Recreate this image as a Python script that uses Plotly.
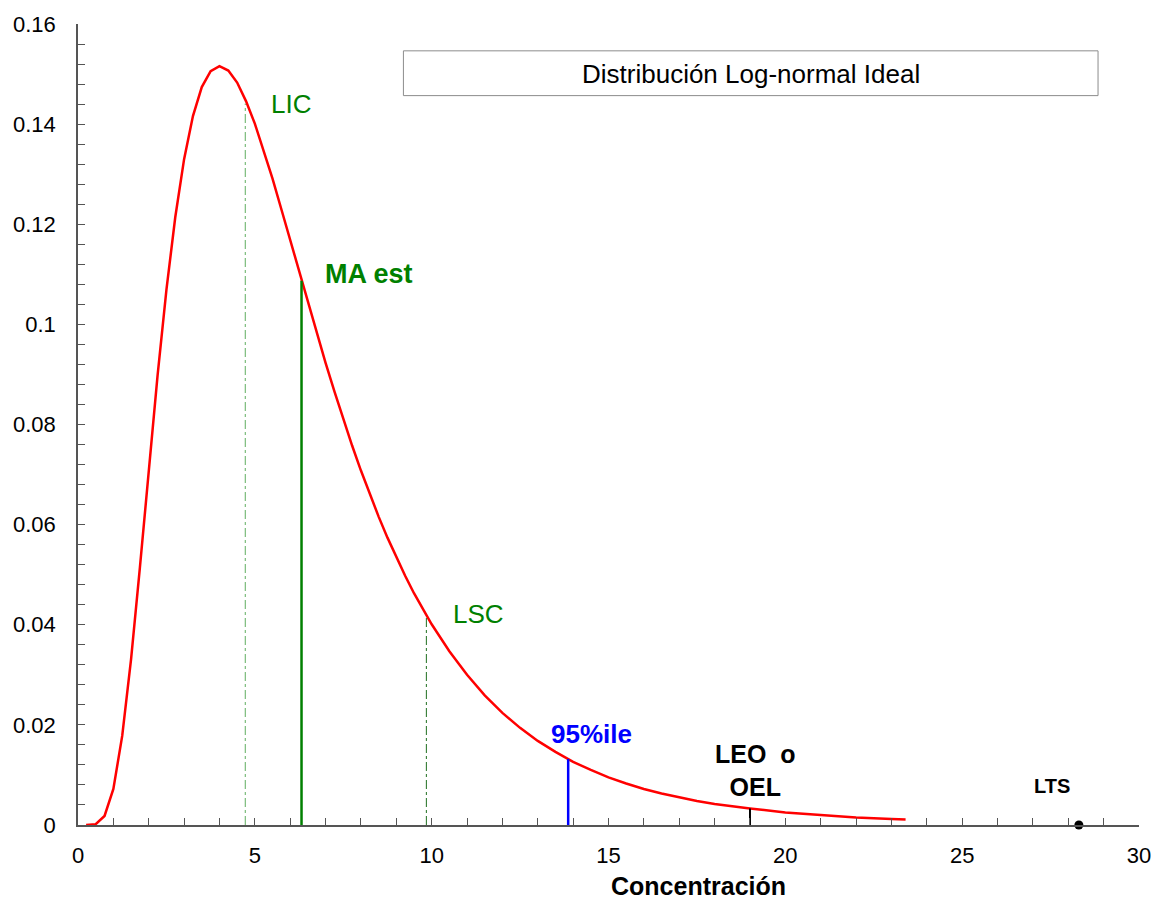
import plotly.graph_objects as go

# Log-normal curve, values
conc = [0.23, 0.5, 0.75, 1.0, 1.25, 1.5, 1.75, 2.0, 2.25, 2.5, 2.75, 3.0, 3.25, 3.5,
        3.75, 4.0, 4.25, 4.5, 4.75, 5.0, 5.25, 5.5, 5.75, 6.0, 6.25, 6.5, 6.75, 7.0,
        7.25, 7.5, 7.75, 8.0, 8.25, 8.5, 8.75, 9.0, 9.25, 9.5, 9.75, 10.0, 10.5, 11.0,
        11.5, 12.0, 12.5, 13.0, 13.5, 14.0, 14.5, 15.0, 15.5, 16.0, 16.5, 17.0, 17.5,
        18.0, 18.5, 19.0, 20.0, 21.0, 22.0, 23.0, 23.4]
dens = [0.0, 0.00016, 0.0018, 0.0072, 0.0178, 0.0331, 0.0514, 0.0709, 0.0898, 0.1069,
        0.1214, 0.1330, 0.1416, 0.1474, 0.1506, 0.1516, 0.1507, 0.1483, 0.1446, 0.1401,
        0.1348, 0.1291, 0.1230, 0.1168, 0.1106, 0.1043, 0.0982, 0.0923, 0.0866, 0.0811,
        0.0758, 0.0708, 0.0661, 0.0616, 0.0574, 0.0535, 0.0498, 0.0463, 0.0431, 0.0401,
        0.0347, 0.0300, 0.0259, 0.0224, 0.0194, 0.0168, 0.0146, 0.0126, 0.0110, 0.0095,
        0.0083, 0.0072, 0.0063, 0.0055, 0.0048, 0.0042, 0.0037, 0.0033, 0.0025, 0.0020,
        0.0015, 0.0012, 0.0011]

# Reference markers
lic_x, lic_y = 4.73, 0.1441
ma_x, ma_y = 6.32, 0.1087
lsc_x, lsc_y = 9.85, 0.0414
p95_x, p95_y = 13.86, 0.0132
leo_x, leo_y = 19.0, 0.0033
lts_x, lts_y = 28.3, 0.0

title_text = "Distribución Log-normal Ideal"
x_title = "Concentración"

FONT = "Liberation Sans, Arial, sans-serif"

fig = go.Figure()

fig.add_trace(go.Scatter(x=conc, y=dens, mode="lines",
                         line=dict(color="#ff0000", width=2.5), hoverinfo="skip"))

def vline(x, y, color, width, dash="solid"):
    fig.add_trace(go.Scatter(x=[x, x], y=[0, y], mode="lines",
                             line=dict(color=color, width=width, dash=dash),
                             hoverinfo="skip"))

vline(lic_x, lic_y, "#5fae5f", 1, "dashdot")
vline(ma_x, ma_y, "#008000", 2.5)
vline(lsc_x, lsc_y, "#1f6f1f", 1, "dashdot")
vline(p95_x, p95_y, "#0000ff", 2.5)
vline(leo_x, leo_y, "#000000", 2)

fig.add_trace(go.Scatter(x=[lts_x], y=[lts_y], mode="markers",
                         marker=dict(color="black", size=9), hoverinfo="skip",
                         cliponaxis=False))

def label(text, x, y, color, size, bold=False, xanchor="left"):
    t = f"<b>{text}</b>" if bold else text
    fig.add_annotation(x=x, y=y, xref="x", yref="y", text=t, showarrow=False,
                       xanchor=xanchor, yanchor="middle",
                       font=dict(family=FONT, size=size, color=color))

label("LIC", 5.40, 0.1441, "#008000", 26)
label("MA est", 6.92, 0.1101, "#008000", 27, bold=True)
label("LSC", 10.54, 0.0421, "#008000", 26)
label("95%ile", 14.52, 0.0181, "#0000ff", 26, bold=True, xanchor="center")
label("LEO  o<br>OEL", 19.16, 0.0109, "#000000", 25, bold=True, xanchor="center")
label("LTS", 27.55, 0.00775, "#000000", 20, bold=True, xanchor="center")

# Title box
fig.add_shape(type="rect", xref="paper", yref="paper",
              x0=0.3067, x1=0.9614, y0=0.9106, y1=0.9665,
              line=dict(color="#8c8c8c", width=1), fillcolor="white")
fig.add_annotation(xref="paper", yref="paper", x=0.634, y=0.938, text=title_text,
                   showarrow=False, xanchor="center", yanchor="middle",
                   font=dict(family=FONT, size=26, color="black"))

fig.add_annotation(xref="paper", yref="paper", x=0.585, y=-0.0758,
                   text=f"<b>{x_title}</b>", showarrow=False,
                   xanchor="center", yanchor="middle",
                   font=dict(family=FONT, size=25, color="black"))

axis_common = dict(showline=True, linecolor="#555555", linewidth=1.5,
                   ticks="inside", ticklen=7, tickcolor="#555555", tickwidth=1,
                   showgrid=False, zeroline=False,
                   tickfont=dict(family=FONT, size=22, color="black"))

fig.update_xaxes(range=[0, 30], tick0=0, dtick=5,
                 minor=dict(dtick=1, ticks="inside", ticklen=7, tickcolor="#555555"),
                 ticklabelstandoff=10, **axis_common)
fig.update_yaxes(range=[0, 0.16], tick0=0, dtick=0.02,
                 minor=dict(dtick=0.004, ticks="inside", ticklen=7, tickcolor="#555555"),
                 ticklabelstandoff=16, **axis_common)

fig.update_layout(width=1163, height=899,
                  margin=dict(l=78, r=22, t=20, b=74),
                  paper_bgcolor="white", plot_bgcolor="white",
                  showlegend=False, font=dict(family=FONT))

fig.write_html("out.html")
